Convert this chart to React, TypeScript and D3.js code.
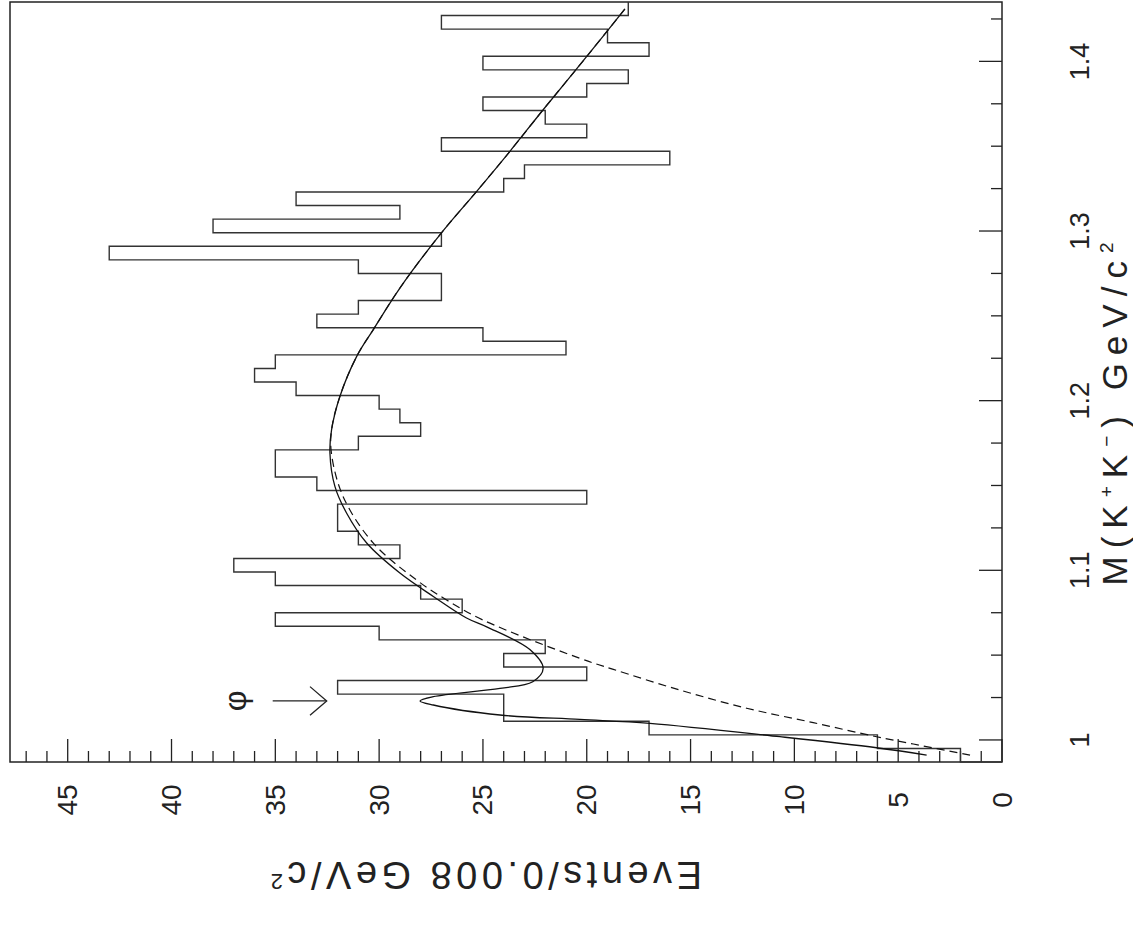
import React from 'react';
import * as d3 from 'd3';

// histogram: 56 bins of 0.008 GeV starting at the K+K- threshold
const binStart = 0.987;
const binWidth = 0.008;
const counts = [
  2, 6, 17, 24, 24, 32, 20, 24, 22, 30,
  35, 26, 28, 35, 37, 29, 31, 32, 32, 20,
  33, 35, 35, 31, 28, 29, 30, 34, 36, 35,
  21, 25, 33, 31, 27, 27, 31, 43, 27, 38,
  29, 34, 24, 23, 16, 27, 20, 22, 25, 20,
  18, 25, 17, 19, 27, 18,
];

// fit (phi + background)
const fitMass = [0.9911, 0.9954, 1.0019, 1.0098, 1.0121, 1.0147, 1.0206, 1.023, 1.0255, 1.0304, 1.0343, 1.0422, 1.0533, 1.0667, 1.0719, 1.0846, 1.0984, 1.1161, 1.1338, 1.1495, 1.1692, 1.1829, 1.2025, 1.2261, 1.2419, 1.2664, 1.2989, 1.3234, 1.347, 1.3715, 1.4029, 1.4309];
const fitVal = [3.63, 6.04, 10.69, 16.96, 20.33, 24.18, 27.39, 28.03, 27.39, 24.18, 22.6, 22.1, 22.74, 24.82, 25.79, 27.39, 29.0, 30.6, 31.57, 32.13, 32.37, 32.29, 31.89, 31.08, 30.28, 29.0, 27.0, 25.3, 23.7, 22.1, 20.0, 18.16];

// background only (dashed)
const bgMass = [0.9911, 0.9976, 1.0019, 1.0102, 1.0187, 1.0294, 1.0416, 1.0481, 1.0707, 1.0825, 1.0943, 1.1163, 1.1436, 1.1692, 1.1829, 1.2025, 1.2261, 1.2419, 1.2664, 1.2989, 1.3234, 1.347, 1.3715, 1.4029, 1.4309];
const bgVal = [1.54, 4.27, 6.04, 9.09, 12.3, 15.51, 18.72, 20.33, 25.0, 26.75, 28.2, 30.3, 31.74, 32.3, 32.29, 31.89, 31.08, 30.28, 29.0, 27.0, 25.3, 23.7, 22.1, 20.0, 18.16];

const massTicks = [1.0, 1.1, 1.2, 1.3, 1.4];
const massLabels = ['1', '1.1', '1.2', '1.3', '1.4'];
const eventTicks = [0, 5, 10, 15, 20, 25, 30, 35, 40, 45];

const W = 1133;
const H = 936;
const left = 10;
const right = 1002;
const top = 2;
const bottom = 762;

const font = "'Liberation Sans', Arial, sans-serif";
const ink = '#222';

export default function App() {
  const massMax = binStart + binWidth * counts.length;
  const y = d3.scaleLinear().domain([binStart, massMax]).range([bottom, top]);
  const x = d3.scaleLinear().domain([0, 45]).range([right, 67.7]);
  const vMax = x.invert(left);

  // step outline of the histogram
  const pts: [number, number][] = [[x(0), y(binStart)]];
  counts.forEach((c, i) => {
    const m0 = binStart + i * binWidth;
    pts.push([x(c), y(m0)]);
    pts.push([x(c), y(m0 + binWidth)]);
  });
  const histPath = d3.line()(pts) as string;

  const curveLine = d3.line<[number, number]>()
    .x(d => x(d[1]))
    .y(d => y(d[0]))
    .curve(d3.curveCatmullRom.alpha(0.5));
  const fitPath = curveLine(fitMass.map((m, i) => [m, fitVal[i]])) as string;
  const bgPath = curveLine(bgMass.map((m, i) => [m, bgVal[i]])) as string;

  const minorMass = d3.range(1.0, massMax, 0.025);
  const minorEvents = d3.range(0, Math.floor(vMax) + 1, 1);

  const phiY = y(1.023);

  return (
    <svg width={W} height={H} style={{ position: 'absolute', left: 0, top: 0, background: '#fff' }}>
      {/* frame */}
      <rect x={left} y={top} width={right - left} height={bottom - top} fill="none" stroke={ink} strokeWidth={1.5} />

      {/* event ticks along the bottom, pointing up */}
      {minorEvents.map(v => (
        <line key={'ev' + v} x1={x(v)} x2={x(v)} y1={bottom} y2={bottom - (v % 5 === 0 ? 23 : 11)} stroke={ink} strokeWidth={1.3} />
      ))}
      {/* mass ticks along the right edge, pointing left */}
      {minorMass.map((m, i) => (
        <line key={'m' + i} x1={right} x2={right - (i % 4 === 0 ? 23 : 11)} y1={y(m)} y2={y(m)} stroke={ink} strokeWidth={1.3} />
      ))}

      {/* histogram */}
      <path d={histPath} fill="none" stroke="#333" strokeWidth={1.4} />
      {/* curves */}
      <path d={bgPath} fill="none" stroke="#111" strokeWidth={1.2} strokeDasharray="8,5" />
      <path d={fitPath} fill="none" stroke="#111" strokeWidth={1.3} />

      {/* phi marker */}
      <text x={246} y={phiY} transform={`rotate(-90 246 ${phiY})`} textAnchor="middle"
        fontFamily={font} fontSize={32} fill={ink}>φ</text>
      <line x1={272.7} x2={326.7} y1={phiY} y2={phiY} stroke={ink} strokeWidth={1.3} />
      <polyline points={`310,${phiY - 14.3} 326.7,${phiY} 310,${phiY + 14.3}`} fill="none" stroke={ink} strokeWidth={1.3} />

      {/* event tick labels */}
      {eventTicks.map(v => (
        <text key={'el' + v} x={x(v)} y={800} transform={`rotate(-90 ${x(v)} 800)`} textAnchor="middle" dominantBaseline="central"
          fontFamily={font} fontSize={28} fill={ink}>{v}</text>
      ))}
      {/* mass tick labels */}
      {massTicks.map((m, i) => (
        <text key={'ml' + i} x={1080} y={y(m)} transform={`rotate(-90 1080 ${y(m)})`} textAnchor="middle" dominantBaseline="central"
          fontFamily={font} fontSize={27} fill={ink}>{massLabels[i]}</text>
      ))}

      {/* axis titles */}
      <text x={1127} y={410} transform="rotate(-90 1127 410)" textAnchor="middle"
        fontFamily={font} fontSize={35} letterSpacing={8} fill={ink}>
        M(K<tspan baselineShift="14" fontSize={19}>+</tspan>K<tspan baselineShift="14" fontSize={19}>−</tspan>) GeV/c<tspan baselineShift="14" fontSize={19}>2</tspan>
      </text>
      <text x={484} y={862} transform="rotate(180 484 862)" textAnchor="middle"
        fontFamily={font} fontSize={38} letterSpacing={4.5} fill={ink}>
        Events/0.008 GeV/c<tspan baselineShift="super" fontSize={22}>2</tspan>
      </text>
    </svg>
  );
}
